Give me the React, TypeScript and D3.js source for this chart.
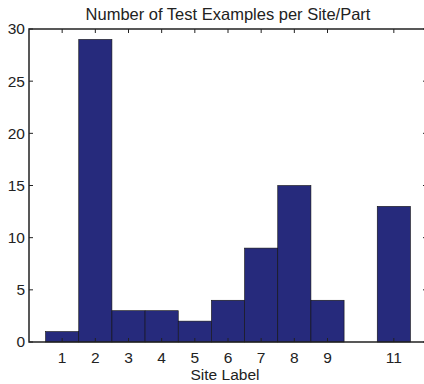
import React, { useEffect, useRef } from 'react';
import * as d3 from 'd3';

const sites = [1, 2, 3, 4, 5, 6, 7, 8, 9, 10, 11];
const counts = [1, 29, 3, 3, 2, 4, 9, 15, 4, 0, 13];
const xTicks = [1, 2, 3, 4, 5, 6, 7, 8, 9, 11];
const yTicks = [0, 5, 10, 15, 20, 25, 30];

const App = () => {
  const ref = useRef(null);

  useEffect(() => {
    const width = 424;
    const height = 384;
    const left = 29, right = 427, top = 29, bottom = 342;
    const font = '"Liberation Sans", Arial, sans-serif';
    const fs = '15.5px';

    d3.select(ref.current).selectAll('*').remove();

    const svg = d3
      .select(ref.current)
      .append('svg')
      .attr('width', width)
      .attr('height', height)
      .style('position', 'absolute')
      .style('left', '0px')
      .style('top', '0px')
      .style('background', '#fff');

    const x = d3.scaleLinear().domain([0, 12]).range([left, right]);
    const y = d3.scaleLinear().domain([0, 30]).range([bottom, top]);

    const data = sites.map((s, i) => ({ site: s, count: counts[i] }));

    svg
      .selectAll('rect.bar')
      .data(data.filter(d => d.count > 0))
      .enter()
      .append('rect')
      .attr('class', 'bar')
      .attr('x', d => x(d.site - 0.5))
      .attr('width', x(1) - x(0))
      .attr('y', d => y(d.count))
      .attr('height', d => y(0) - y(d.count))
      .attr('fill', '#262a7c')
      .attr('stroke', '#111')
      .attr('stroke-width', 0.6);

    // axes box, ticks inward like matlab
    const axis = svg.append('g').attr('stroke', '#222').attr('stroke-width', 1.5).attr('fill', 'none');
    axis.append('path').attr('d', `M${right},${top}H${left}V${bottom}H${right}V${top}`);

    const tl = 4;
    xTicks.forEach(t => {
      axis.append('line').attr('x1', x(t)).attr('x2', x(t)).attr('y1', bottom).attr('y2', bottom - tl).attr('stroke-width', 1);
      axis.append('line').attr('x1', x(t)).attr('x2', x(t)).attr('y1', top).attr('y2', top + tl).attr('stroke-width', 1);
    });
    yTicks.forEach(t => {
      axis.append('line').attr('x1', left).attr('x2', left + tl).attr('y1', y(t)).attr('y2', y(t)).attr('stroke-width', 1);
      axis.append('line').attr('x1', right).attr('x2', right - tl).attr('y1', y(t)).attr('y2', y(t)).attr('stroke-width', 1);
    });

    svg
      .selectAll('text.xt')
      .data(xTicks)
      .enter()
      .append('text')
      .attr('class', 'xt')
      .attr('x', d => x(d))
      .attr('y', bottom + 16)
      .attr('dy', '0.35em')
      .attr('text-anchor', 'middle')
      .style('font-family', font)
      .style('font-size', fs)
      .style('fill', '#222')
      .text(d => d);

    svg
      .selectAll('text.yt')
      .data(yTicks)
      .enter()
      .append('text')
      .attr('class', 'yt')
      .attr('x', left - 4)
      .attr('y', d => y(d))
      .attr('dy', '0.35em')
      .attr('text-anchor', 'end')
      .style('font-family', font)
      .style('font-size', fs)
      .style('fill', '#222')
      .text(d => d);

    svg
      .append('text')
      .attr('x', (left + right) / 2)
      .attr('y', 14)
      .attr('dy', '0.35em')
      .attr('text-anchor', 'middle')
      .style('font-family', font)
      .style('font-size', '16.5px')
      .style('fill', '#222')
      .text('Number of Test Examples per Site/Part');

    svg
      .append('text')
      .attr('x', (left + right) / 2 - 3)
      .attr('y', 375)
      .attr('dy', '0.35em')
      .attr('text-anchor', 'middle')
      .style('font-family', font)
      .style('font-size', fs)
      .style('fill', '#222')
      .text('Site Label');
  }, []);

  return <div ref={ref}></div>;
};

export default App;
